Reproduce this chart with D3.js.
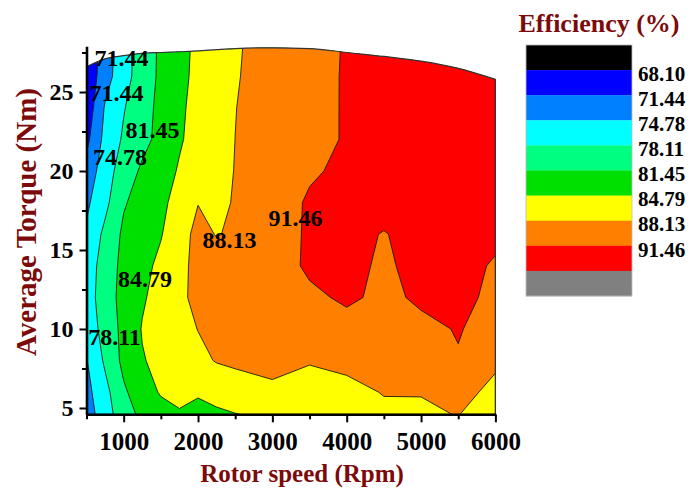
<!DOCTYPE html>
<html><head><meta charset="utf-8">
<script src="https://cdn.jsdelivr.net/npm/d3@7"></script>
<style>body{margin:0;background:#fff} svg{display:block}</style>
</head><body>
<svg id="c" width="692" height="490"></svg>
<script>
// ---- data ----
const speeds  = [500, 750, 1000, 1250, 1500, 1750, 2000, 2250, 2500, 3000, 3500, 4000, 4500, 5000, 5500, 6000];
const torques = [4.6, 6, 8, 10, 12, 14, 16, 18, 20, 22, 24, 26, 28];
// efficiency (%) rows, one per torque (bottom to top), one value per speed
const effT4_6 = [73.2, 76.58, 80.06, 82.2, 83.5, 84.5, 84.0, 84.2, 84.7, 85.3, 85.8, 86.5, 87.2, 87.8, 88.2, 86.8];
const effT6   = [73.8, 77.09, 80.97, 83.2, 85.1, 85.6, 85.07, 86.0, 86.5, 87.55, 86.5, 86.8, 88.35, 88.22, 89.0, 87.43];
const effT8   = [74.6, 78.64, 82.28, 84.58, 85.61, 86.51, 87.41, 88.3, 88.7, 89.0, 88.4, 89.3, 89.6, 90.0, 91.3, 88.6];
const effT10  = [76.0, 79.40, 82.34, 84.98, 86.05, 87.12, 88.19, 88.8, 89.2, 89.8, 90.2, 90.5, 90.6, 90.9, 91.6, 90.6];
const effT12  = [76.5, 79.90, 82.53, 84.41, 86.00, 87.52, 88.9, 89.3, 89.6, 90.2, 90.9, 91.9, 90.9, 91.85, 92.0, 91.0];
const effT14  = [76.2, 79.69, 82.33, 83.87, 85.51, 87.30, 89.0, 89.2, 89.4, 90.0, 91.95, 92.3, 91.0, 92.4, 92.3, 91.2];
const effT16  = [75.3, 78.90, 82.04, 83.31, 84.59, 86.86, 89.0, 88.0, 88.5, 89.9, 91.9, 92.4, 91.3, 92.6, 92.6, 92.0];
const effT18  = [74.16, 77.25, 81.15, 82.73, 84.11, 85.89, 88.05, 87.6, 88.3, 90.04, 91.8, 92.3, 92.7, 93.0, 93.2, 93.2];
const effT20  = [72.6, 76.65, 79.66, 81.98, 83.58, 85.05, 86.12, 87.19, 88.22, 89.67, 91.12, 92.0, 92.6, 93.0, 93.2, 93.2];
const effT22  = [70.59, 75.77, 78.54, 80.45, 82.44, 84.50, 85.79, 86.96, 88.14, 89.34, 90.55, 91.7, 92.5, 93.0, 93.2, 93.2];
const effT24  = [69.29, 75.10, 77.91, 80.17, 82.29, 84.30, 85.69, 86.89, 88.08, 89.32, 90.54, 91.7, 92.4, 92.9, 93.1, 93.1];
const effT26  = [68.95, 73.37, 76.89, 79.69, 82.07, 84.01, 85.52, 86.73, 87.94, 89.27, 90.52, 91.7, 92.3, 92.8, 93.0, 93.0];
const effT28  = [68.6, 73.1, 76.7, 79.6, 82.0, 83.9, 85.4, 86.6, 87.85, 89.2, 90.5, 91.65, 92.2, 92.6, 92.8, 92.8];
const effRows = [effT4_6, effT6, effT8, effT10, effT12, effT14, effT16, effT18, effT20, effT22, effT24, effT26, effT28];
// maximum torque envelope (Nm) at each speed
const maxTorque = [26.6, 27.1, 27.3, 27.45, 27.5, 27.55, 27.6, 27.68, 27.75, 27.8, 27.75, 27.5, 27.25, 26.95, 26.5, 25.8];
// contour levels and legend
const levels = [68.10, 71.44, 74.78, 78.11, 81.45, 84.79, 88.13, 91.46];
const levelLabels = ["68.10", "71.44", "74.78", "78.11", "81.45", "84.79", "88.13", "91.46"];
const bandColors = ["#000000", "#0000ff", "#0080ff", "#00ffff", "#00ff80", "#00e000", "#ffff00", "#ff8000", "#ff0000", "#808080"];
// axis ticks
const xTicks = [1000, 2000, 3000, 4000, 5000, 6000];
const xMinor = [500, 1500, 2500, 3500, 4500, 5500];
const yTicks = [5, 10, 15, 20, 25];
const yMinor = [7.5, 12.5, 17.5, 22.5, 27.5];
// contour labels placed in data space
const labelText   = ["71.44", "71.44", "81.45", "74.78", "84.79", "78.11", "88.13", "91.46"];
const labelSpeed  = [970, 903, 1388, 951, 1287, 877, 2423, 3311];
const labelTorque = [26.65, 24.43, 22.09, 20.38, 12.66, 8.99, 15.13, 16.52];

// ---- drawing ----
const svg = d3.select("#c");
const serif = "'Times New Roman', 'Liberation Serif', serif";
const maroon = "#7d0a0a";
const xs = d3.scaleLinear().domain([500, 6000]).range([86.5, 495.4]);
const ys = d3.scaleLinear().domain([4.6, 27.9]).range([414.3, 46.2]);

const n = speeds.length, m = torques.length;
const values = [];
effRows.forEach(r => r.forEach(v => values.push(v)));
const bands = d3.contours().size([n, m]).thresholds([0, ...levels, 94.80])(values);
const si = d3.scaleLinear().domain(d3.range(n)).range(speeds).clamp(true);
const ti = d3.scaleLinear().domain(d3.range(m)).range(torques).clamp(true);
const proj = p => [xs(si(p[0] - 0.5)), ys(ti(p[1] - 0.5))];
const pathOf = mp => mp.coordinates.map(poly => poly.map(ring =>
  "M" + ring.map(p => proj(p).map(v => v.toFixed(2)).join(",")).join("L") + "Z").join("")).join("");

const defs = svg.append("defs");
const envArea = d3.area().x((d, i) => xs(speeds[i])).y0(ys(4.6)).y1(d => ys(d)).curve(d3.curveMonotoneX);
defs.append("clipPath").attr("id", "clip").append("path").attr("d", envArea(maxTorque));

const plot = svg.append("g").attr("clip-path", "url(#clip)");
plot.selectAll("path").data(bands).join("path")
  .attr("d", d => pathOf(d))
  .attr("fill", (d, i) => bandColors[i])
  .attr("fill-rule", "evenodd")
  .attr("stroke", "#1a1a1a").attr("stroke-width", 0.9);

// envelope outline
const envLine = d3.line().x((d, i) => xs(speeds[i])).y(d => ys(d)).curve(d3.curveMonotoneX);
svg.append("path").attr("d", envLine(maxTorque)).attr("fill", "none").attr("stroke", "#333").attr("stroke-width", 1.2);
svg.append("line").attr("x1", xs(6000)).attr("x2", xs(6000)).attr("y1", ys(maxTorque[n - 1])).attr("y2", ys(4.6))
  .attr("stroke", "#333").attr("stroke-width", 1.2);

// axes
const xAxis = svg.append("g").attr("transform", `translate(0,${ys(4.6)})`)
  .call(d3.axisBottom(xs).tickValues(xTicks).tickSize(8).tickSizeOuter(0).tickFormat(d3.format("d")));
svg.append("g").attr("transform", `translate(0,${ys(4.6)})`)
  .call(d3.axisBottom(xs).tickValues(xMinor).tickSize(5).tickSizeOuter(0).tickFormat(""))
  .select(".domain").remove();
const yAxis = svg.append("g").attr("transform", `translate(${xs(500)},0)`)
  .call(d3.axisLeft(ys).tickValues(yTicks).tickSize(7).tickSizeOuter(0).tickFormat(d3.format("d")));
svg.append("g").attr("transform", `translate(${xs(500)},0)`)
  .call(d3.axisLeft(ys).tickValues(yMinor).tickSize(4.5).tickSizeOuter(0).tickFormat(""))
  .select(".domain").remove();
svg.selectAll(".domain").attr("stroke", "#000").attr("stroke-width", 2.6);
svg.selectAll(".tick line").attr("stroke", "#000").attr("stroke-width", 2);
xAxis.selectAll("text").attr("y", 36).attr("dy", 0)
  .style("font-family", serif).style("font-size", "25px").style("font-weight", "bold").attr("fill", "#000");
yAxis.selectAll("text").attr("x", -13).attr("dy", "0.33em")
  .style("font-family", serif).style("font-size", "24px").style("font-weight", "bold").attr("fill", "#000");

// axis titles
svg.append("text").attr("x", 302).attr("y", 482).attr("text-anchor", "middle")
  .style("font-family", serif).style("font-size", "25px").style("font-weight", "bold").attr("fill", maroon)
  .text("Rotor speed (Rpm)");
svg.append("text").attr("transform", "translate(36,222) rotate(-90)").attr("text-anchor", "middle")
  .style("font-family", serif).style("font-size", "29px").style("font-weight", "bold").attr("fill", maroon)
  .text("Average Torque (Nm)");

// contour labels
svg.append("g").selectAll("text").data(labelText).join("text")
  .attr("x", (d, i) => xs(labelSpeed[i])).attr("y", (d, i) => ys(labelTorque[i]))
  .attr("text-anchor", "middle")
  .style("font-family", serif).style("font-size", "24px").style("font-weight", "bold").attr("fill", "#000")
  .text(d => d);

// legend
const lg = svg.append("g");
const boxH = 25.1, lx = 526, ly = 45, lw = 106;
lg.selectAll("rect").data(bandColors).join("rect")
  .attr("x", lx).attr("y", (d, i) => ly + i * boxH).attr("width", lw).attr("height", boxH + 0.3)
  .attr("fill", d => d);
lg.append("rect").attr("x", lx).attr("y", ly).attr("width", lw).attr("height", boxH * bandColors.length)
  .attr("fill", "none").attr("stroke", "#bbb").attr("stroke-width", 0.8);
lg.selectAll("text.lab").data(levelLabels).join("text").attr("class", "lab")
  .attr("x", 638).attr("y", (d, i) => ly + (i + 1) * boxH + 10.7)
  .style("font-family", serif).style("font-size", "21px").style("font-weight", "bold").attr("fill", "#000")
  .text(d => d);
lg.append("text").attr("x", 599).attr("y", 31.5).attr("text-anchor", "middle")
  .style("font-family", serif).style("font-size", "26px").style("font-weight", "bold").attr("fill", maroon)
  .text("Efficiency (%)");
</script>
</body></html>
